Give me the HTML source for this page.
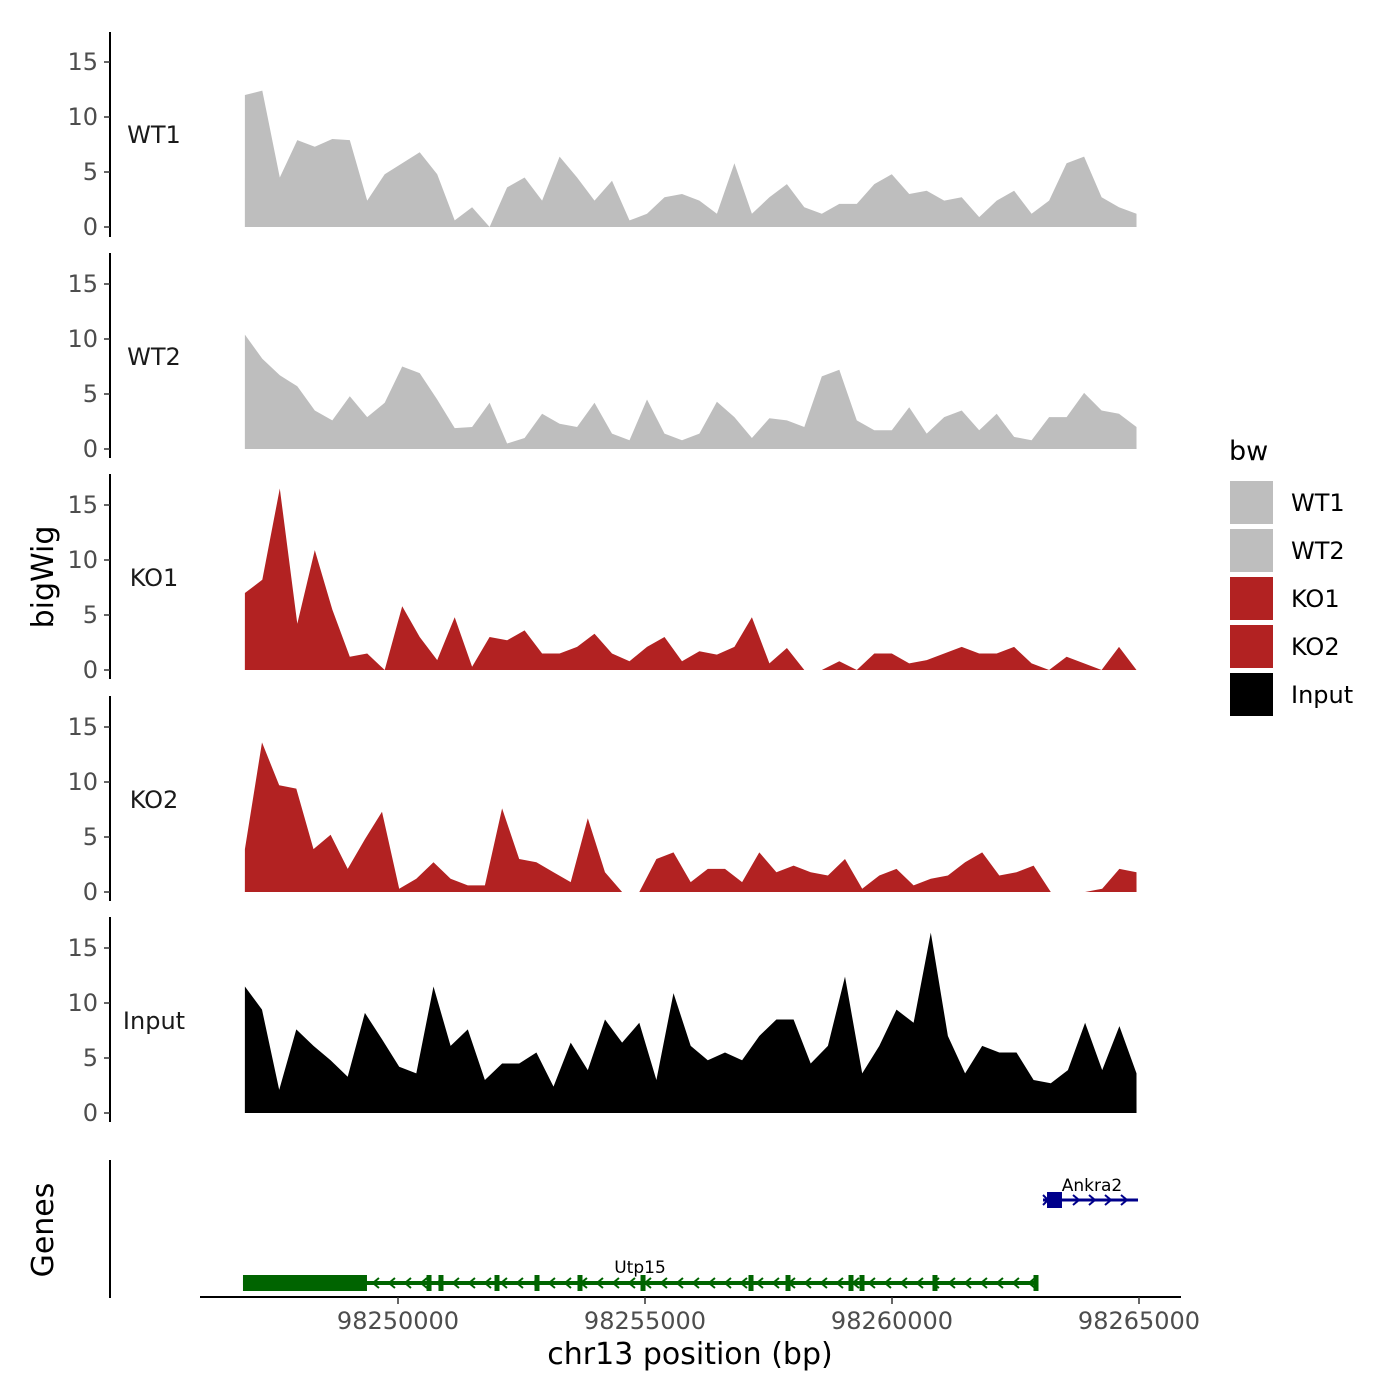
<!DOCTYPE html>
<html><head><meta charset="utf-8"><style>
body{margin:0;background:#fff}
svg{display:block;font-family:"DejaVu Sans","Liberation Sans",sans-serif}
</style></head><body>
<svg id="c" width="1400" height="1400" viewBox="0 0 1400 1400" xmlns="http://www.w3.org/2000/svg"></svg>
<script>
const xTicks = [98250000, 98255000, 98260000, 98265000];
const xTickLabels = ["98250000", "98255000", "98260000", "98265000"];
const yTicks = [0, 5, 10, 15];
const trackNames = ["WT1", "WT2", "KO1", "KO2", "Input"];
const trackStart = 98246900;
const trackEnd = 98264950;
const wt1 = [12,12.4,4.5,7.9,7.3,8,7.9,2.4,4.8,5.8,6.8,4.8,0.6,1.8,0,3.6,4.5,2.4,6.4,4.5,2.4,4.2,0.6,1.2,2.7,3,2.4,1.2,5.8,1.2,2.7,3.9,1.8,1.2,2.1,2.1,3.9,4.8,3,3.3,2.4,2.7,0.9,2.4,3.3,1.2,2.4,5.8,6.4,2.7,1.8,1.2];
const wt2 = [10.4,8.2,6.7,5.7,3.5,2.6,4.8,2.9,4.2,7.5,6.9,4.5,1.9,2,4.2,0.5,1,3.2,2.3,2,4.2,1.4,0.8,4.5,1.4,0.8,1.4,4.3,2.9,1,2.8,2.6,2,6.6,7.2,2.6,1.7,1.7,3.8,1.4,2.9,3.5,1.7,3.2,1.1,0.8,2.9,2.9,5.1,3.5,3.2,2];
const ko1 = [7,8.2,16.5,4.2,10.9,5.5,1.2,1.5,0,5.8,3,0.9,4.8,0.3,3,2.7,3.6,1.5,1.5,2.1,3.3,1.5,0.8,2.1,3,0.8,1.7,1.4,2.1,4.8,0.6,2,0,0,0.8,0,1.5,1.5,0.6,0.9,1.5,2.1,1.5,1.5,2.1,0.6,0,1.2,0.6,0,2.1,0];
const ko2 = [3.9,13.6,9.7,9.4,3.9,5.2,2.1,4.8,7.3,0.3,1.2,2.7,1.2,0.6,0.6,7.6,3,2.7,1.8,0.9,6.7,1.8,0,0,3,3.6,0.9,2.1,2.1,0.9,3.6,1.8,2.4,1.8,1.5,3,0.3,1.5,2.1,0.6,1.2,1.5,2.7,3.6,1.5,1.8,2.4,0,0,0,0.3,2.1,1.8];
const input = [11.5,9.4,2.1,7.6,6.1,4.8,3.3,9.1,6.7,4.2,3.6,11.5,6.1,7.6,3,4.5,4.5,5.5,2.4,6.4,3.9,8.5,6.4,8.2,3,10.9,6.1,4.8,5.5,4.8,7,8.5,8.5,4.5,6.1,12.4,3.6,6.1,9.4,8.2,16.4,7,3.6,6.1,5.5,5.5,3,2.7,3.9,8.2,3.9,7.9,3.6];
const trackColors = ["#bebebe","#bebebe","#b22222","#b22222","#000000"];
const utpStart = 98246862, utpThickEnd = 98249372, utpEnd = 98262915;
const utpExons = [98250628,98250870,98252004,98252814,98253684,98254960,98257146,98257895,98259170,98259393,98260870,98262915];
const ankStart = 98263057, ankBoxStart = 98263138, ankBoxEnd = 98263441, ankEnd = 98264980;

const svg = document.getElementById('c');
const NS = 'http://www.w3.org/2000/svg';
function mk(tag, attrs, parent) {
  const e = document.createElementNS(NS, tag);
  for (const k in attrs) e.setAttribute(k, attrs[k]);
  (parent || svg).appendChild(e);
  return e;
}
function xs(bp) { return 398 + (bp - 98250000) * 247 / 5000; }
const baselines = [227, 449, 670, 892, 1113];
const axisTops = [32, 253, 474, 696, 917];
function ys(v, i) { return baselines[i] - v * 11; }
const series = [wt1, wt2, ko1, ko2, input];

series.forEach((vals, i) => {
  const g = mk('g', {});
  
  
  const n = vals.length;
  let d = 'M' + xs(trackStart) + ',' + baselines[i];
  vals.forEach((v, j) => {
    const bp = trackStart + j * (trackEnd - trackStart) / (n - 1);
    d += ' L' + xs(bp).toFixed(1) + ',' + ys(v, i).toFixed(1);
  });
  d += ' L' + xs(trackEnd) + ',' + baselines[i] + ' Z';
  const p = mk('path', { d: d, fill: trackColors[i], stroke: 'none' }, g);
  
  
  const ax = mk('line', { x1: 110, x2: 110, y1: axisTops[i], y2: axisTops[i] + 205, stroke: '#000', 'stroke-width': 2 }, g);
  
  
  yTicks.forEach(t => {
    const y = ys(t, i);
    mk('line', { x1: 104, x2: 110, y1: y, y2: y, stroke: '#333', 'stroke-width': 1.5 }, g);
    const tl = mk('text', { x: 98, y: y + 8, 'text-anchor': 'end', 'font-size': 24, fill: '#4d4d4d' }, g);
    tl.textContent = t;
    
    
  });
  const lab = mk('text', { x: 154, y: baselines[i] - 84, 'text-anchor': 'middle', 'font-size': 24, fill: '#1a1a1a' }, g);
  lab.textContent = trackNames[i];
  
  
});

mk('line', { x1: 110, x2: 110, y1: 1160, y2: 1298, stroke: '#000', 'stroke-width': 2 });
const gu = mk('g', {});


const gy = 1283, green = '#006400';
mk('line', { x1: xs(utpStart), x2: xs(utpEnd), y1: gy, y2: gy, stroke: green, 'stroke-width': 4 }, gu);
mk('rect', { x: xs(utpStart), y: gy - 8, width: xs(utpThickEnd) - xs(utpStart), height: 16, fill: green }, gu);
utpExons.forEach(e => mk('rect', { x: xs(e) - 2.5, y: gy - 8, width: 5, height: 16, fill: green }, gu));
for (let x = xs(utpThickEnd) + 8; x < xs(utpEnd) - 5; x += 16) {
  mk('path', { d: `M${x + 4},${gy - 5} L${x - 2},${gy} L${x + 4},${gy + 5}`, fill: 'none', stroke: green, 'stroke-width': 2 }, gu);
}
const ut = mk('text', { x: 640, y: 1273, 'text-anchor': 'middle', 'font-size': 17, fill: '#000' }, gu);
ut.textContent = 'Utp15';
const ga = mk('g', {});


const ay = 1200, blue = '#00008b';
mk('line', { x1: xs(ankStart), x2: xs(ankEnd), y1: ay, y2: ay, stroke: blue, 'stroke-width': 3 }, ga);
mk('rect', { x: xs(ankBoxStart), y: ay - 8, width: xs(ankBoxEnd) - xs(ankBoxStart), height: 16, fill: blue }, ga);
for (let x = xs(ankBoxEnd) + 16; x <= xs(ankEnd); x += 16) {
  mk('path', { d: `M${x - 5},${ay - 5} L${x + 1},${ay} L${x - 5},${ay + 5}`, fill: 'none', stroke: blue, 'stroke-width': 2 }, ga);
}
mk('path', { d: `M${xs(ankStart)},${ay - 5} L${xs(ankStart) + 5},${ay} L${xs(ankStart)},${ay + 5}`, fill: 'none', stroke: blue, 'stroke-width': 2 }, ga);
const at = mk('text', { x: 1092, y: 1191, 'text-anchor': 'middle', 'font-size': 17, fill: '#000' }, ga);
at.textContent = 'Ankra2';

const xa = mk('g', {});


mk('line', { x1: 200, x2: 1181, y1: 1297, y2: 1297, stroke: '#000', 'stroke-width': 2 }, xa);
xTicks.forEach((t, i) => {
  mk('line', { x1: xs(t), x2: xs(t), y1: 1297, y2: 1304, stroke: '#333', 'stroke-width': 1.5 }, xa);
  const tl = mk('text', { x: xs(t), y: 1329, 'text-anchor': 'middle', 'font-size': 24, fill: '#4d4d4d' }, xa);
  tl.textContent = xTickLabels[i];
  
  
});
const xt = mk('text', { x: 690, y: 1364, 'text-anchor': 'middle', 'font-size': 30, fill: '#000' });
xt.textContent = 'chr13 position (bp)';


const yt = mk('text', { x: 0, y: 0, transform: 'translate(53,577) rotate(-90)', 'text-anchor': 'middle', 'font-size': 30, fill: '#000' });
yt.textContent = 'bigWig';


const gt = mk('text', { x: 0, y: 0, transform: 'translate(53,1230) rotate(-90)', 'text-anchor': 'middle', 'font-size': 30, fill: '#000' });
gt.textContent = 'Genes';



const lg = mk('g', {});


const lt = mk('text', { x: 1229, y: 460, 'font-size': 27, fill: '#000' }, lg);
lt.textContent = 'bw';
trackNames.forEach((n, i) => {
  const y = 481 + i * 48;
  const r = mk('rect', { x: 1230, y: y, width: 43, height: 43, fill: trackColors[i] }, lg);
  
  
  const t = mk('text', { x: 1291, y: y + 30, 'font-size': 24, fill: '#000' }, lg);
  t.textContent = n;
  
  
});
</script>
</body></html>
